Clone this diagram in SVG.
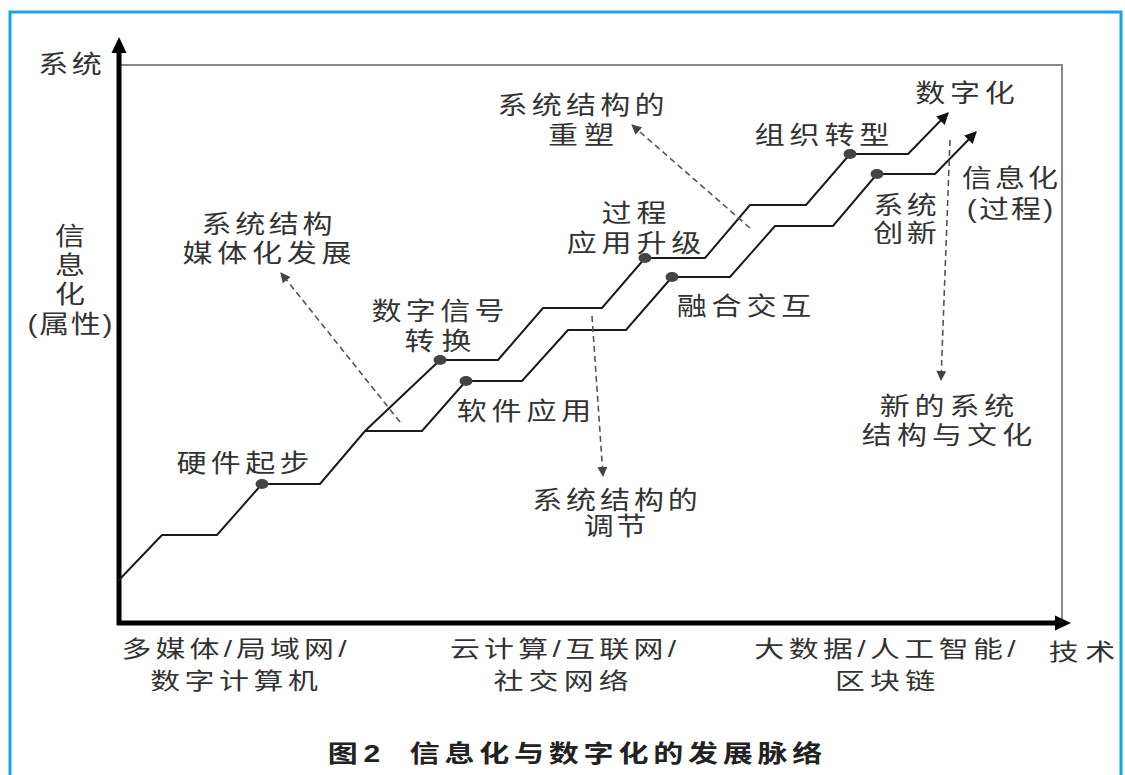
<svg xmlns="http://www.w3.org/2000/svg" width="1125" height="775" viewBox="0 0 1125 775">
<defs>
<style>
.t{font-family:"Liberation Sans","Noto Sans CJK SC",sans-serif;font-size:25px;fill:#333;text-anchor:middle}
.b{font-family:"Liberation Sans","Noto Sans CJK SC",sans-serif;font-size:23px;fill:#333;text-anchor:middle}
.cap{font-family:"Liberation Sans","Noto Sans CJK SC",sans-serif;font-size:24px;font-weight:bold;fill:#222;text-anchor:middle}
.step{fill:none;stroke:#1a1a1a;stroke-width:2;stroke-linejoin:miter}
.dash{fill:none;stroke:#555;stroke-width:1.6;stroke-dasharray:6 4}
.dot{fill:#444}
</style>
<marker id="ah" viewBox="0 0 10 10" refX="9" refY="5" markerWidth="15" markerHeight="12" markerUnits="userSpaceOnUse" orient="auto"><path d="M0,0 L10,5 L0,10 z" fill="#111"/></marker>
<marker id="dh" viewBox="0 0 10 10" refX="9" refY="5" markerWidth="12" markerHeight="10" markerUnits="userSpaceOnUse" orient="auto"><path d="M0,0 L10,5 L0,10 z" fill="#444"/></marker>
</defs>
<rect width="1125" height="775" fill="#fff"/>
<rect x="10" y="12" width="1111" height="800" fill="none" stroke="#1aa3e0" stroke-width="3"/>
<g id="frame">
<polyline points="119,65 1062,65 1062,623" fill="none" stroke="#888" stroke-width="2"/>
<line x1="119" y1="50" x2="119" y2="625" stroke="#000" stroke-width="5"/>
<polygon points="119,37 111.5,53 126.5,53" fill="#000"/>
<line x1="117" y1="623" x2="1056" y2="623" stroke="#000" stroke-width="5"/>
<polygon points="1071,623 1055,615.5 1055,630.5" fill="#000"/>
</g>
<g id="connectors">
<path class="step" d="M118,581 L162,535 L217,535 L262,484 L320,484 L365,431 L440,360 L498,360 L543,308 L602,308 L645,258 L705,258 L750,205 L806,205 L850,154 L908,154 L948,113" marker-end="url(#ah)"/>
<path class="step" d="M365,431 L422,431 L466,381 L522,381 L568,330 L626,330 L672,277 L730,277 L775,226 L833,226 L877,174 L935,174 L976,132" marker-end="url(#ah)"/>
<path class="dash" d="M400,422 L281,273" marker-end="url(#dh)"/>
<path class="dash" d="M750,228 L632,125" marker-end="url(#dh)"/>
<path class="dash" d="M592,316 L603,476" marker-end="url(#dh)"/>
<path class="dash" d="M950,140 L941,380" marker-end="url(#dh)"/>
</g>
<g id="dots">
<ellipse class="dot" cx="262" cy="484" rx="6.5" ry="5"/>
<ellipse class="dot" cx="440" cy="360" rx="6.5" ry="5"/>
<ellipse class="dot" cx="466" cy="381" rx="6.5" ry="5"/>
<ellipse class="dot" cx="645" cy="258" rx="6.5" ry="5"/>
<ellipse class="dot" cx="672" cy="277" rx="6.5" ry="5"/>
<ellipse class="dot" cx="850" cy="154" rx="6.5" ry="5"/>
<ellipse class="dot" cx="877" cy="174" rx="6.5" ry="5"/>
</g>
<g id="y-top"><text class="t" transform="translate(70 0) scale(1.2 1)" x="0" y="73" textLength="53" lengthAdjust="spacing">系统</text></g>
<g id="y-label">
<text class="t" transform="translate(70 0) scale(1.2 1)"><tspan x="0" y="245">信</tspan><tspan x="0" y="274">息</tspan><tspan x="0" y="303">化</tspan><tspan x="0" y="333" textLength="71" lengthAdjust="spacing">(属性)</tspan></text>
</g>
<g id="n-media">
<text class="t" transform="translate(267 0) scale(1.2 1)"><tspan x="0" y="233" textLength="109" lengthAdjust="spacing">系统结构</tspan><tspan x="0" y="262" textLength="141" lengthAdjust="spacing">媒体化发展</tspan></text>
</g>
<g id="n-hardware"><text class="t" transform="translate(243 0) scale(1.2 1)" x="0" y="472" textLength="111" lengthAdjust="spacing">硬件起步</text></g>
<g id="n-signal">
<text class="t" transform="translate(438 0) scale(1.2 1)"><tspan x="0" y="320" textLength="111" lengthAdjust="spacing">数字信号</tspan><tspan x="0" y="350" textLength="56" lengthAdjust="spacing">转换</tspan></text>
</g>
<g id="n-software"><text class="t" transform="translate(524 0) scale(1.2 1)" x="0" y="420" textLength="112" lengthAdjust="spacing">软件应用</text></g>
<g id="n-adjust">
<text class="t" transform="translate(615 0) scale(1.2 1)"><tspan x="0" y="509" textLength="138" lengthAdjust="spacing">系统结构的</tspan><tspan x="0" y="535" textLength="52" lengthAdjust="spacing">调节</tspan></text>
</g>
<g id="n-process">
<text class="t" transform="translate(634 0) scale(1.2 1)"><tspan x="0" y="222" textLength="54" lengthAdjust="spacing">过程</tspan><tspan x="0" y="252" textLength="112" lengthAdjust="spacing">应用升级</tspan></text>
</g>
<g id="n-reshape">
<text class="t" transform="translate(581 0) scale(1.2 1)"><tspan x="0" y="114" textLength="139" lengthAdjust="spacing">系统结构的</tspan><tspan x="0" y="144" textLength="55" lengthAdjust="spacing">重塑</tspan></text>
</g>
<g id="n-fusion"><text class="t" transform="translate(744 0) scale(1.2 1)" x="0" y="315" textLength="112" lengthAdjust="spacing">融合交互</text></g>
<g id="n-org"><text class="t" transform="translate(822 0) scale(1.2 1)" x="0" y="144" textLength="112" lengthAdjust="spacing">组织转型</text></g>
<g id="n-digital"><text class="t" transform="translate(965 0) scale(1.2 1)" x="0" y="102" textLength="83" lengthAdjust="spacing">数字化</text></g>
<g id="n-innovate">
<text class="t" transform="translate(905 0) scale(1.2 1)"><tspan x="0" y="214" textLength="53" lengthAdjust="spacing">系统</tspan><tspan x="0" y="242" textLength="53" lengthAdjust="spacing">创新</tspan></text>
</g>
<g id="n-info">
<text class="t" transform="translate(1010 0) scale(1.2 1)"><tspan x="0" y="187" textLength="80" lengthAdjust="spacing">信息化</tspan><tspan x="0" y="218" textLength="72" lengthAdjust="spacing">(过程)</tspan></text>
</g>
<g id="n-culture">
<text class="t" transform="translate(947 0) scale(1.2 1)"><tspan x="0" y="415" textLength="112" lengthAdjust="spacing">新的系统</tspan><tspan x="0" y="444" textLength="142" lengthAdjust="spacing">结构与文化</tspan></text>
</g>
<g id="x-labels">
<text class="b" transform="translate(234 0) scale(1.3 1)"><tspan x="0" y="657" textLength="173" lengthAdjust="spacing">多媒体/局域网/</tspan><tspan x="0" y="689" textLength="129" lengthAdjust="spacing">数字计算机</tspan></text>
<text class="b" transform="translate(563 0) scale(1.3 1)"><tspan x="0" y="657" textLength="174" lengthAdjust="spacing">云计算/互联网/</tspan><tspan x="-1.5" y="689" textLength="104" lengthAdjust="spacing">社交网络</tspan></text>
<text class="b" transform="translate(885 0) scale(1.3 1)"><tspan x="0" y="657" textLength="201" lengthAdjust="spacing">大数据/人工智能/</tspan><tspan x="0" y="689" textLength="77" lengthAdjust="spacing">区块链</tspan></text>
<text class="b" transform="translate(1082 0) scale(1.3 1)" x="0" y="660" textLength="51" lengthAdjust="spacing">技术</text>
</g>
<g id="caption">
<text class="cap" transform="translate(354 0) scale(1.25 1)" x="0" y="762" textLength="42" lengthAdjust="spacing">图2</text>
<text class="cap" transform="translate(616 0) scale(1.25 1)" x="0" y="762" textLength="330" lengthAdjust="spacing">信息化与数字化的发展脉络</text>
</g>
</svg>
